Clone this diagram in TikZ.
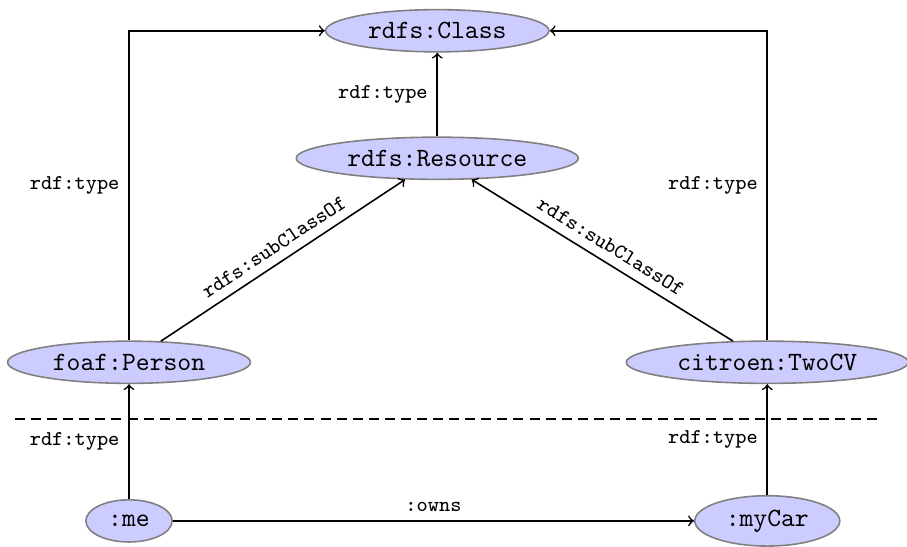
\documentclass[tikz,border=0pt]{standalone}
\usetikzlibrary{shapes.geometric}
\begin{document}
\begin{tikzpicture}[
	res/.style={ellipse, draw=gray, semithick, fill=blue!20, font=\ttfamily, inner xsep=3.7pt, inner ysep=2.5pt, minimum height=16pt},
	lbl/.style={font=\footnotesize\ttfamily},
	edge/.style={semithick, ->}]
	\useasboundingbox (0,0) rectangle (12.093,-7.293);
	\node[res] (class) at (5.83,-0.41) {rdfs:Class};
	\node[res] (resource) at (5.83,-2.11) {rdfs:Resource};
	\node[res] (person) at (1.72,-4.83) {foaf:Person};
	\node[res] (twocv) at (10.23,-4.83) {citroen:TwoCV};
	\node[res] (me) at (1.72,-6.945) {:me};
	\node[res] (mycar) at (10.23,-6.945) {:myCar};
	\draw[edge] (resource) -- node[lbl,left] {rdf:type} (class);
	\draw[edge] (person) |- node[lbl,left,pos=0.25] {rdf:type} (class);
	\draw[edge] (twocv) |- node[lbl,left,pos=0.25] {rdf:type} (class);
	\draw[edge] (person) -- node[lbl,sloped,above] {rdfs:subClassOf} (resource);
	\draw[edge] (twocv) -- node[lbl,sloped,above] {rdfs:subClassOf} (resource);
	\draw[edge] (me) -- node[lbl,left] {rdf:type} (person);
	\draw[edge] (mycar) -- node[lbl,left] {rdf:type} (twocv);
	\draw[edge] (me.east) -- node[lbl,above] {:owns} (mycar.west);
	\draw[semithick, dash pattern=on 3.8pt off 2.3pt] (0.2,-5.587) -- (11.76,-5.587);
\end{tikzpicture}
\end{document}
